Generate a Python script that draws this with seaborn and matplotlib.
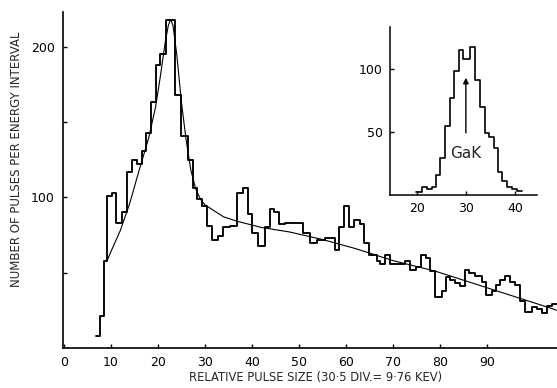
import numpy as np
import pandas as pd
import matplotlib
matplotlib.use("Agg")
import matplotlib.pyplot as plt
import seaborn as sns

# ---- main spectrum (relative pulse size bins, counts) ----
main_edges = [6.81, 7.66, 8.51, 9.15, 10.21, 11.06, 12.34, 13.40, 14.47, 15.53,
              16.60, 17.45, 18.51, 19.57, 20.43, 21.70, 22.55, 23.62, 24.89, 26.38,
              27.45, 28.30, 29.36, 30.43, 31.49, 32.77, 33.83, 35.32, 36.81, 38.09,
              39.15, 40.00, 41.28, 42.77, 43.83, 44.68, 45.74, 47.02, 48.09, 49.15,
              50.85, 52.34, 53.83, 54.68, 55.53, 56.60, 57.66, 58.51, 59.57, 60.64,
              61.70, 62.98, 63.83, 64.89, 65.74, 66.60, 67.23, 68.30, 69.36, 70.43,
              71.49, 72.55, 73.62, 74.89, 75.96, 77.02, 77.87, 78.94, 80.43, 81.28,
              82.13, 83.19, 84.26, 85.32, 86.17, 87.45, 88.94, 89.79, 91.06, 91.91,
              92.77, 93.83, 94.89, 95.96, 97.02, 98.09, 99.57, 100.64, 101.70, 102.77,
              103.83, 104.89]
main_counts = [8, 21, 58, 101, 103, 83, 90, 117, 125, 122,
               131, 143, 163, 188, 195, 218, 218, 168, 141, 125,
               106, 99, 94, 81, 72, 74, 80, 81, 103, 106,
               89, 76, 68, 80, 92, 90, 82, 83, 83, 83,
               76, 70, 72, 72, 73, 73, 65, 80, 94, 80,
               85, 82, 70, 62, 62, 58, 56, 62, 56, 56,
               56, 58, 52, 54, 62, 60, 51, 34, 38, 47,
               45, 43, 41, 52, 50, 48, 44, 35, 38, 42,
               45, 48, 44, 42, 31, 24, 27, 26, 23, 28,
               29]

# ---- smooth fitted curve ----
fit_x = [9.2, 10, 12, 14, 16, 18, 19.5, 20.5, 21.5, 22.2, 22.7, 23.2, 24, 25, 26,
         27, 28, 29, 30, 32, 34, 37, 42, 48, 55, 62, 70, 79, 86, 92, 97, 103, 104.9]
fit_y = [58, 64, 78, 96, 118, 139, 160, 180, 202, 214, 218, 214, 195, 163, 138,
         118, 106, 99, 95, 91, 87, 84, 80, 77, 72, 66, 58, 51, 44, 38, 33, 27, 25]

# ---- inset: GaK line ----
inset_edges = [19.8, 21.0, 22.0, 23.1, 23.9, 24.7, 25.7, 26.7, 27.6, 28.6, 29.4,
               30.8, 31.8, 32.9, 33.9, 34.7, 35.7, 36.5, 37.3, 38.4, 39.4, 40.4, 41.4]
inset_counts = [2, 6, 5, 6, 16, 29, 55, 77, 98, 115, 108,
                117, 91, 70, 49, 46, 37, 18, 11, 6, 5, 3]
arrow_x = 30
arrow_y = [47, 95]
gak_label = "GaK"
gak_pos = (30, 33)

main_xticks = [0, 10, 20, 30, 40, 50, 60, 70, 80, 90]
main_yticks = [50, 100, 150, 200]
main_ylabels = ["", "100", "", "200"]
inset_xticks = [20, 30, 40]
inset_yticks = [50, 100]

sns.set_style("ticks")
plt.rcParams["font.family"] = ["DejaVu Sans"]

fig = plt.figure(figsize=(5.57, 3.88), dpi=100)
ax = fig.add_axes([0.1131, 0.1031, 0.8869, 0.866])

me = np.array(main_edges)
main_df = pd.DataFrame({"size": (me[:-1] + me[1:]) / 2, "count": main_counts})
sns.histplot(data=main_df, x="size", weights="count", bins=list(main_edges),
             element="step", fill=False, color="black", linewidth=1.35, ax=ax)
fit_df = pd.DataFrame({"x": fit_x, "y": fit_y})
sns.lineplot(data=fit_df, x="x", y="y", color="black", linewidth=0.8, ax=ax, sort=False)

ax.set_xlim(-0.2, 104.9)
ax.set_ylim(0, 223)
ax.set_xticks(main_xticks)
ax.set_xticklabels([str(t) for t in main_xticks], fontsize=9)
ax.set_yticks(main_yticks)
ax.set_yticklabels(main_ylabels, fontsize=9)
ax.tick_params(direction="in", length=3, width=1, colors="black", pad=6)
ax.set_xlabel("")
ax.set_ylabel("")
for s in ["top", "right"]:
    ax.spines[s].set_visible(False)
for s in ["left", "bottom"]:
    ax.spines[s].set_color("black")
    ax.spines[s].set_linewidth(1.2)

fig.text(0.566, 0.028, "RELATIVE PULSE SIZE (30·5 DIV.= 9·76 KEV)",
         ha="center", va="center", fontsize=8.3)
fig.text(0.030, 0.59, "NUMBER OF PULSES PER ENERGY INTERVAL",
         ha="center", va="center", rotation=90, fontsize=8.5)

# inset
axi = fig.add_axes([0.700, 0.4974, 0.264, 0.433])
ie = np.array(inset_edges)
inset_df = pd.DataFrame({"size": (ie[:-1] + ie[1:]) / 2, "count": inset_counts})
sns.histplot(data=inset_df, x="size", weights="count", bins=list(inset_edges),
             element="step", fill=False, color="black", linewidth=1.2, ax=axi)
axi.annotate("", xy=(arrow_x, arrow_y[1]), xytext=(arrow_x, arrow_y[0]),
             arrowprops=dict(arrowstyle="-|>", color="black", lw=1.0,
                             mutation_scale=8))
axi.text(gak_pos[0], gak_pos[1], gak_label, ha="center", va="center", fontsize=11)
axi.set_xlim(14.5, 44.5)
axi.set_ylim(0, 133)
axi.set_xticks(inset_xticks)
axi.set_xticklabels([str(t) for t in inset_xticks], fontsize=9)
axi.set_yticks(inset_yticks)
axi.set_yticklabels([str(t) for t in inset_yticks], fontsize=9)
axi.tick_params(direction="in", length=3, width=1, colors="black", pad=5)
axi.set_xlabel("")
axi.set_ylabel("")
axi.patch.set_alpha(0)
for s in ["top", "right"]:
    axi.spines[s].set_visible(False)
for s in ["left", "bottom"]:
    axi.spines[s].set_color("black")
    axi.spines[s].set_linewidth(1.1)

fig.savefig("out.png", dpi=100, facecolor="white")
